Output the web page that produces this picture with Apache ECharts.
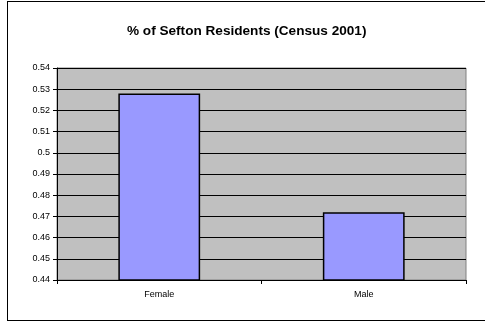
<!DOCTYPE html>
<html>
<head>
<meta charset="utf-8">
<script src="https://cdn.jsdelivr.net/npm/echarts@6/dist/echarts.min.js"></script>
<style>
  html, body { margin: 0; padding: 0; background: #fff; }
  #frame { position: absolute; left: 7px; top: 1px; width: 490px; height: 320px;
           border: 1px solid #000; box-sizing: border-box; }
  #chart { position: absolute; left: 0; top: 0; width: 485px; height: 324px; }
</style>
</head>
<body>
<div id="frame"></div>
<div id="chart"></div>
<script>
// Share of Sefton residents by sex, Census 2001
const categories = ['Female', 'Male'];
const shares = [0.528, 0.472];
const axisMin = 0.44;
const axisMax = 0.54;
const axisStep = 0.01;

const chart = echarts.init(document.getElementById('chart'), null, { renderer: 'canvas' });
chart.setOption({
  animation: false,
  title: {
    text: '% of Sefton Residents (Census 2001)',
    left: 122,
    top: 19,
    textStyle: { fontFamily: 'Liberation Sans, Arial', fontSize: 13.6, fontWeight: 'bold', color: '#000' }
  },
  grid: {
    left: 57, top: 68, right: 19, bottom: 44,
    show: true, backgroundColor: '#c0c0c0', borderColor: '#808080', borderWidth: 1
  },
  xAxis: {
    type: 'category',
    data: categories,
    axisLine: { lineStyle: { color: '#000', width: 1 } },
    axisTick: { show: true, length: 4, lineStyle: { color: '#000' } },
    axisLabel: { fontFamily: 'Liberation Sans, Arial', fontSize: 9, color: '#000', margin: 10 }
  },
  yAxis: {
    type: 'value',
    min: axisMin,
    max: axisMax,
    interval: axisStep,
    axisLine: { show: true, lineStyle: { color: '#000', width: 1 } },
    axisTick: { show: true, length: 4, lineStyle: { color: '#000' } },
    splitLine: { show: true, lineStyle: { color: '#000', width: 1 } },
    axisLabel: {
      fontFamily: 'Liberation Sans, Arial', fontSize: 9, color: '#000', margin: 7,
      formatter: v => String(parseFloat(v.toFixed(2)))
    }
  },
  series: [{
    type: 'bar',
    data: shares,
    barWidth: '40%',
    itemStyle: { color: '#9999ff', borderColor: '#000', borderWidth: 1.5 }
  }]
});
</script>
</body>
</html>
